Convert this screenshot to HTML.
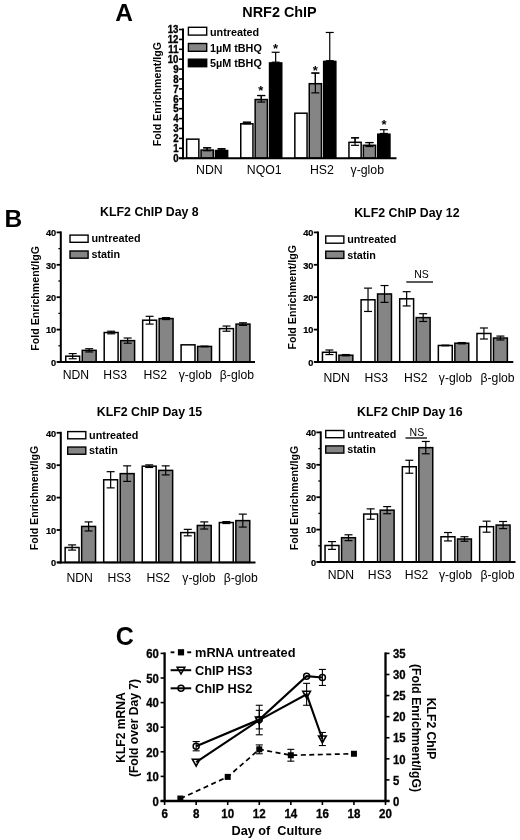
<!DOCTYPE html>
<html><head><meta charset="utf-8"><title>Figure</title>
<style>html,body{margin:0;padding:0;background:#fff}svg{display:block}</style></head><body>
<svg width="520" height="840" viewBox="0 0 520 840">
<rect x="0" y="0" width="520" height="840" fill="#fff"/>
<text x="115.30" y="21.40" font-size="24.5" font-family="Liberation Sans, sans-serif" font-weight="bold" text-anchor="start" >A</text>
<rect x="186.65" y="139.15" width="12.20" height="19.05" fill="#fff" stroke="#000" stroke-width="1.5"/>
<line x1="207.15" y1="147.80" x2="207.15" y2="150.77" stroke="#000" stroke-width="1.2" />
<line x1="203.15" y1="147.80" x2="211.15" y2="147.80" stroke="#000" stroke-width="1.2" />
<line x1="203.15" y1="150.77" x2="211.15" y2="150.77" stroke="#000" stroke-width="1.2" />
<rect x="201.05" y="150.04" width="12.20" height="8.16" fill="#858585" stroke="#000" stroke-width="1.5"/>
<line x1="207.15" y1="147.80" x2="207.15" y2="150.77" stroke="#000" stroke-width="1.2" />
<line x1="203.15" y1="147.80" x2="211.15" y2="147.80" stroke="#000" stroke-width="1.2" />
<line x1="203.15" y1="150.77" x2="211.15" y2="150.77" stroke="#000" stroke-width="1.2" />
<line x1="221.55" y1="148.60" x2="221.55" y2="149.78" stroke="#000" stroke-width="1.2" />
<line x1="217.55" y1="148.60" x2="225.55" y2="148.60" stroke="#000" stroke-width="1.2" />
<line x1="217.55" y1="149.78" x2="225.55" y2="149.78" stroke="#000" stroke-width="1.2" />
<rect x="215.45" y="150.53" width="12.20" height="7.66" fill="#000" stroke="#000" stroke-width="1.5"/>
<text x="209.35" y="174.20" font-size="12.3" font-family="Liberation Sans, sans-serif" text-anchor="middle" >NDN</text>
<line x1="246.85" y1="122.26" x2="246.85" y2="123.85" stroke="#000" stroke-width="1.2" />
<line x1="242.85" y1="122.26" x2="250.85" y2="122.26" stroke="#000" stroke-width="1.2" />
<line x1="242.85" y1="123.85" x2="250.85" y2="123.85" stroke="#000" stroke-width="1.2" />
<rect x="240.75" y="123.80" width="12.20" height="34.39" fill="#fff" stroke="#000" stroke-width="1.5"/>
<line x1="246.85" y1="122.26" x2="246.85" y2="123.85" stroke="#000" stroke-width="1.2" />
<line x1="242.85" y1="122.26" x2="250.85" y2="122.26" stroke="#000" stroke-width="1.2" />
<line x1="242.85" y1="123.85" x2="250.85" y2="123.85" stroke="#000" stroke-width="1.2" />
<line x1="261.25" y1="95.53" x2="261.25" y2="102.07" stroke="#000" stroke-width="1.2" />
<line x1="257.25" y1="95.53" x2="265.25" y2="95.53" stroke="#000" stroke-width="1.2" />
<line x1="257.25" y1="102.07" x2="265.25" y2="102.07" stroke="#000" stroke-width="1.2" />
<rect x="255.15" y="99.55" width="12.20" height="58.65" fill="#858585" stroke="#000" stroke-width="1.5"/>
<line x1="261.25" y1="95.53" x2="261.25" y2="102.07" stroke="#000" stroke-width="1.2" />
<line x1="257.25" y1="95.53" x2="265.25" y2="95.53" stroke="#000" stroke-width="1.2" />
<line x1="257.25" y1="102.07" x2="265.25" y2="102.07" stroke="#000" stroke-width="1.2" />
<line x1="275.65" y1="52.27" x2="275.65" y2="62.17" stroke="#000" stroke-width="1.2" />
<line x1="271.65" y1="52.27" x2="279.65" y2="52.27" stroke="#000" stroke-width="1.2" />
<line x1="271.65" y1="62.17" x2="279.65" y2="62.17" stroke="#000" stroke-width="1.2" />
<rect x="269.55" y="62.92" width="12.20" height="95.28" fill="#000" stroke="#000" stroke-width="1.5"/>
<text x="264.25" y="174.20" font-size="12.3" font-family="Liberation Sans, sans-serif" text-anchor="middle" >NQO1</text>
<rect x="294.85" y="113.21" width="12.20" height="44.99" fill="#fff" stroke="#000" stroke-width="1.5"/>
<line x1="315.35" y1="73.06" x2="315.35" y2="92.86" stroke="#000" stroke-width="1.2" />
<line x1="311.35" y1="73.06" x2="319.35" y2="73.06" stroke="#000" stroke-width="1.2" />
<line x1="311.35" y1="92.86" x2="319.35" y2="92.86" stroke="#000" stroke-width="1.2" />
<rect x="309.25" y="83.71" width="12.20" height="74.49" fill="#858585" stroke="#000" stroke-width="1.5"/>
<line x1="315.35" y1="73.06" x2="315.35" y2="92.86" stroke="#000" stroke-width="1.2" />
<line x1="311.35" y1="73.06" x2="319.35" y2="73.06" stroke="#000" stroke-width="1.2" />
<line x1="311.35" y1="92.86" x2="319.35" y2="92.86" stroke="#000" stroke-width="1.2" />
<line x1="329.75" y1="32.47" x2="329.75" y2="60.68" stroke="#000" stroke-width="1.2" />
<line x1="325.75" y1="32.47" x2="333.75" y2="32.47" stroke="#000" stroke-width="1.2" />
<line x1="325.75" y1="60.68" x2="333.75" y2="60.68" stroke="#000" stroke-width="1.2" />
<rect x="323.65" y="61.43" width="12.20" height="96.77" fill="#000" stroke="#000" stroke-width="1.5"/>
<text x="321.95" y="174.20" font-size="12.3" font-family="Liberation Sans, sans-serif" text-anchor="middle" >HS2</text>
<line x1="355.05" y1="137.81" x2="355.05" y2="145.33" stroke="#000" stroke-width="1.2" />
<line x1="351.05" y1="137.81" x2="359.05" y2="137.81" stroke="#000" stroke-width="1.2" />
<line x1="351.05" y1="145.33" x2="359.05" y2="145.33" stroke="#000" stroke-width="1.2" />
<rect x="348.95" y="142.32" width="12.20" height="15.88" fill="#fff" stroke="#000" stroke-width="1.5"/>
<line x1="355.05" y1="137.81" x2="355.05" y2="145.33" stroke="#000" stroke-width="1.2" />
<line x1="351.05" y1="137.81" x2="359.05" y2="137.81" stroke="#000" stroke-width="1.2" />
<line x1="351.05" y1="145.33" x2="359.05" y2="145.33" stroke="#000" stroke-width="1.2" />
<line x1="369.45" y1="142.56" x2="369.45" y2="146.52" stroke="#000" stroke-width="1.2" />
<line x1="365.45" y1="142.56" x2="373.45" y2="142.56" stroke="#000" stroke-width="1.2" />
<line x1="365.45" y1="146.52" x2="373.45" y2="146.52" stroke="#000" stroke-width="1.2" />
<rect x="363.35" y="145.29" width="12.20" height="12.91" fill="#858585" stroke="#000" stroke-width="1.5"/>
<line x1="369.45" y1="142.56" x2="369.45" y2="146.52" stroke="#000" stroke-width="1.2" />
<line x1="365.45" y1="142.56" x2="373.45" y2="142.56" stroke="#000" stroke-width="1.2" />
<line x1="365.45" y1="146.52" x2="373.45" y2="146.52" stroke="#000" stroke-width="1.2" />
<line x1="383.85" y1="129.69" x2="383.85" y2="133.45" stroke="#000" stroke-width="1.2" />
<line x1="379.85" y1="129.69" x2="387.85" y2="129.69" stroke="#000" stroke-width="1.2" />
<line x1="379.85" y1="133.45" x2="387.85" y2="133.45" stroke="#000" stroke-width="1.2" />
<rect x="377.75" y="134.20" width="12.20" height="24.00" fill="#000" stroke="#000" stroke-width="1.5"/>
<text x="367.25" y="174.20" font-size="12.3" font-family="Liberation Sans, sans-serif" text-anchor="middle" >&#947;-glob</text>
<line x1="183.00" y1="28.50" x2="183.00" y2="159.20" stroke="#000" stroke-width="2" />
<line x1="179.00" y1="158.20" x2="396.50" y2="158.20" stroke="#000" stroke-width="2" />
<line x1="179.00" y1="158.20" x2="183.00" y2="158.20" stroke="#000" stroke-width="1.6" />
<text transform="translate(178.50,161.98) scale(0.92,1)" stroke="#000" stroke-width="0.35" font-size="10.5" font-family="Liberation Sans, sans-serif" font-weight="bold" text-anchor="end">0</text>
<line x1="179.00" y1="148.30" x2="183.00" y2="148.30" stroke="#000" stroke-width="1.6" />
<text transform="translate(178.50,152.08) scale(0.92,1)" stroke="#000" stroke-width="0.35" font-size="10.5" font-family="Liberation Sans, sans-serif" font-weight="bold" text-anchor="end">1</text>
<line x1="179.00" y1="138.40" x2="183.00" y2="138.40" stroke="#000" stroke-width="1.6" />
<text transform="translate(178.50,142.18) scale(0.92,1)" stroke="#000" stroke-width="0.35" font-size="10.5" font-family="Liberation Sans, sans-serif" font-weight="bold" text-anchor="end">2</text>
<line x1="179.00" y1="128.50" x2="183.00" y2="128.50" stroke="#000" stroke-width="1.6" />
<text transform="translate(178.50,132.28) scale(0.92,1)" stroke="#000" stroke-width="0.35" font-size="10.5" font-family="Liberation Sans, sans-serif" font-weight="bold" text-anchor="end">3</text>
<line x1="179.00" y1="118.60" x2="183.00" y2="118.60" stroke="#000" stroke-width="1.6" />
<text transform="translate(178.50,122.38) scale(0.92,1)" stroke="#000" stroke-width="0.35" font-size="10.5" font-family="Liberation Sans, sans-serif" font-weight="bold" text-anchor="end">4</text>
<line x1="179.00" y1="108.70" x2="183.00" y2="108.70" stroke="#000" stroke-width="1.6" />
<text transform="translate(178.50,112.48) scale(0.92,1)" stroke="#000" stroke-width="0.35" font-size="10.5" font-family="Liberation Sans, sans-serif" font-weight="bold" text-anchor="end">5</text>
<line x1="179.00" y1="98.80" x2="183.00" y2="98.80" stroke="#000" stroke-width="1.6" />
<text transform="translate(178.50,102.58) scale(0.92,1)" stroke="#000" stroke-width="0.35" font-size="10.5" font-family="Liberation Sans, sans-serif" font-weight="bold" text-anchor="end">6</text>
<line x1="179.00" y1="88.90" x2="183.00" y2="88.90" stroke="#000" stroke-width="1.6" />
<text transform="translate(178.50,92.68) scale(0.92,1)" stroke="#000" stroke-width="0.35" font-size="10.5" font-family="Liberation Sans, sans-serif" font-weight="bold" text-anchor="end">7</text>
<line x1="179.00" y1="79.00" x2="183.00" y2="79.00" stroke="#000" stroke-width="1.6" />
<text transform="translate(178.50,82.78) scale(0.92,1)" stroke="#000" stroke-width="0.35" font-size="10.5" font-family="Liberation Sans, sans-serif" font-weight="bold" text-anchor="end">8</text>
<line x1="179.00" y1="69.10" x2="183.00" y2="69.10" stroke="#000" stroke-width="1.6" />
<text transform="translate(178.50,72.88) scale(0.92,1)" stroke="#000" stroke-width="0.35" font-size="10.5" font-family="Liberation Sans, sans-serif" font-weight="bold" text-anchor="end">9</text>
<line x1="179.00" y1="59.20" x2="183.00" y2="59.20" stroke="#000" stroke-width="1.6" />
<text transform="translate(178.50,62.98) scale(0.92,1)" stroke="#000" stroke-width="0.35" font-size="10.5" font-family="Liberation Sans, sans-serif" font-weight="bold" text-anchor="end">10</text>
<line x1="179.00" y1="49.30" x2="183.00" y2="49.30" stroke="#000" stroke-width="1.6" />
<text transform="translate(178.50,53.08) scale(0.92,1)" stroke="#000" stroke-width="0.35" font-size="10.5" font-family="Liberation Sans, sans-serif" font-weight="bold" text-anchor="end">11</text>
<line x1="179.00" y1="39.40" x2="183.00" y2="39.40" stroke="#000" stroke-width="1.6" />
<text transform="translate(178.50,43.18) scale(0.92,1)" stroke="#000" stroke-width="0.35" font-size="10.5" font-family="Liberation Sans, sans-serif" font-weight="bold" text-anchor="end">12</text>
<line x1="179.00" y1="29.50" x2="183.00" y2="29.50" stroke="#000" stroke-width="1.6" />
<text transform="translate(178.50,33.28) scale(0.92,1)" stroke="#000" stroke-width="0.35" font-size="10.5" font-family="Liberation Sans, sans-serif" font-weight="bold" text-anchor="end">13</text>
<text x="279.50" y="16.50" font-size="14.4" font-family="Liberation Sans, sans-serif" font-weight="bold" text-anchor="middle" >NRF2 ChIP</text>
<text transform="translate(160.80,94.10) rotate(-90)" font-size="10.6" font-family="Liberation Sans, sans-serif" font-weight="bold" text-anchor="middle">Fold Enrichment/IgG</text>
<rect x="188.40" y="27.30" width="18.30" height="7.80" fill="#fff" stroke="#000" stroke-width="1.4"/>
<text x="210.00" y="35.80" font-size="10.8" font-family="Liberation Sans, sans-serif" font-weight="bold" text-anchor="start" >untreated</text>
<rect x="188.40" y="43.50" width="18.30" height="7.80" fill="#858585" stroke="#000" stroke-width="1.4"/>
<text x="210.00" y="51.50" font-size="10.8" font-family="Liberation Sans, sans-serif" font-weight="bold" text-anchor="start" >1&#181;M tBHQ</text>
<rect x="188.40" y="59.20" width="18.30" height="7.50" fill="#000" stroke="#000" stroke-width="1.4"/>
<text x="210.00" y="67.20" font-size="10.8" font-family="Liberation Sans, sans-serif" font-weight="bold" text-anchor="start" >5&#181;M tBHQ</text>
<text x="260.80" y="95.00" font-size="13" font-family="Liberation Sans, sans-serif" font-weight="bold" text-anchor="middle" >*</text>
<text x="275.50" y="53.00" font-size="13" font-family="Liberation Sans, sans-serif" font-weight="bold" text-anchor="middle" >*</text>
<text x="315.30" y="75.00" font-size="13" font-family="Liberation Sans, sans-serif" font-weight="bold" text-anchor="middle" >*</text>
<text x="384.00" y="129.00" font-size="13" font-family="Liberation Sans, sans-serif" font-weight="bold" text-anchor="middle" >*</text>
<text x="4.40" y="226.80" font-size="24.5" font-family="Liberation Sans, sans-serif" font-weight="bold" text-anchor="start" >B</text>
<rect x="65.75" y="356.17" width="13.90" height="5.83" fill="#fff" stroke="#000" stroke-width="1.5"/>
<line x1="72.70" y1="353.58" x2="72.70" y2="358.76" stroke="#000" stroke-width="1.2" />
<line x1="68.70" y1="353.58" x2="76.70" y2="353.58" stroke="#000" stroke-width="1.2" />
<line x1="68.70" y1="358.76" x2="76.70" y2="358.76" stroke="#000" stroke-width="1.2" />
<rect x="82.25" y="350.34" width="13.90" height="11.66" fill="#858585" stroke="#000" stroke-width="1.5"/>
<line x1="89.20" y1="348.72" x2="89.20" y2="351.96" stroke="#000" stroke-width="1.2" />
<line x1="85.20" y1="348.72" x2="93.20" y2="348.72" stroke="#000" stroke-width="1.2" />
<line x1="85.20" y1="351.96" x2="93.20" y2="351.96" stroke="#000" stroke-width="1.2" />
<rect x="104.20" y="332.52" width="13.90" height="29.48" fill="#fff" stroke="#000" stroke-width="1.5"/>
<line x1="111.15" y1="331.22" x2="111.15" y2="333.81" stroke="#000" stroke-width="1.2" />
<line x1="107.15" y1="331.22" x2="115.15" y2="331.22" stroke="#000" stroke-width="1.2" />
<line x1="107.15" y1="333.81" x2="115.15" y2="333.81" stroke="#000" stroke-width="1.2" />
<rect x="120.70" y="340.62" width="13.90" height="21.38" fill="#858585" stroke="#000" stroke-width="1.5"/>
<line x1="127.65" y1="338.02" x2="127.65" y2="343.21" stroke="#000" stroke-width="1.2" />
<line x1="123.65" y1="338.02" x2="131.65" y2="338.02" stroke="#000" stroke-width="1.2" />
<line x1="123.65" y1="343.21" x2="131.65" y2="343.21" stroke="#000" stroke-width="1.2" />
<rect x="142.65" y="320.20" width="13.90" height="41.80" fill="#fff" stroke="#000" stroke-width="1.5"/>
<line x1="149.60" y1="316.32" x2="149.60" y2="324.09" stroke="#000" stroke-width="1.2" />
<line x1="145.60" y1="316.32" x2="153.60" y2="316.32" stroke="#000" stroke-width="1.2" />
<line x1="145.60" y1="324.09" x2="153.60" y2="324.09" stroke="#000" stroke-width="1.2" />
<rect x="159.15" y="318.58" width="13.90" height="43.42" fill="#858585" stroke="#000" stroke-width="1.5"/>
<line x1="166.10" y1="317.61" x2="166.10" y2="319.56" stroke="#000" stroke-width="1.2" />
<line x1="162.10" y1="317.61" x2="170.10" y2="317.61" stroke="#000" stroke-width="1.2" />
<line x1="162.10" y1="319.56" x2="170.10" y2="319.56" stroke="#000" stroke-width="1.2" />
<rect x="181.10" y="344.83" width="13.90" height="17.17" fill="#fff" stroke="#000" stroke-width="1.5"/>
<rect x="197.60" y="346.45" width="13.90" height="15.55" fill="#858585" stroke="#000" stroke-width="1.5"/>
<line x1="204.55" y1="346.12" x2="204.55" y2="346.77" stroke="#000" stroke-width="1.2" />
<line x1="200.55" y1="346.12" x2="208.55" y2="346.12" stroke="#000" stroke-width="1.2" />
<line x1="200.55" y1="346.77" x2="208.55" y2="346.77" stroke="#000" stroke-width="1.2" />
<rect x="219.55" y="328.63" width="13.90" height="33.37" fill="#fff" stroke="#000" stroke-width="1.5"/>
<line x1="226.50" y1="326.04" x2="226.50" y2="331.22" stroke="#000" stroke-width="1.2" />
<line x1="222.50" y1="326.04" x2="230.50" y2="326.04" stroke="#000" stroke-width="1.2" />
<line x1="222.50" y1="331.22" x2="230.50" y2="331.22" stroke="#000" stroke-width="1.2" />
<rect x="236.05" y="324.09" width="13.90" height="37.91" fill="#858585" stroke="#000" stroke-width="1.5"/>
<line x1="243.00" y1="322.80" x2="243.00" y2="325.39" stroke="#000" stroke-width="1.2" />
<line x1="239.00" y1="322.80" x2="247.00" y2="322.80" stroke="#000" stroke-width="1.2" />
<line x1="239.00" y1="325.39" x2="247.00" y2="325.39" stroke="#000" stroke-width="1.2" />
<text x="75.90" y="378.90" font-size="12.2" font-family="Liberation Sans, sans-serif" text-anchor="middle" >NDN</text>
<text x="115.20" y="378.90" font-size="12.2" font-family="Liberation Sans, sans-serif" text-anchor="middle" >HS3</text>
<text x="155.25" y="378.90" font-size="12.2" font-family="Liberation Sans, sans-serif" text-anchor="middle" >HS2</text>
<text x="195.30" y="378.90" font-size="12.2" font-family="Liberation Sans, sans-serif" text-anchor="middle" >&#947;-glob</text>
<text x="236.90" y="378.90" font-size="12.2" font-family="Liberation Sans, sans-serif" text-anchor="middle" >&#946;-glob</text>
<line x1="60.80" y1="231.40" x2="60.80" y2="363.00" stroke="#000" stroke-width="2" />
<line x1="57.30" y1="362.00" x2="255.00" y2="362.00" stroke="#000" stroke-width="2" />
<line x1="56.60" y1="362.00" x2="60.80" y2="362.00" stroke="#000" stroke-width="1.8" />
<text transform="translate(56.20,365.83) scale(0.94,1)" stroke="#000" stroke-width="0.25" font-size="9.8" font-family="Liberation Sans, sans-serif" font-weight="bold" text-anchor="end">0</text>
<line x1="56.60" y1="329.60" x2="60.80" y2="329.60" stroke="#000" stroke-width="1.8" />
<text transform="translate(56.20,333.43) scale(0.94,1)" stroke="#000" stroke-width="0.25" font-size="9.8" font-family="Liberation Sans, sans-serif" font-weight="bold" text-anchor="end">10</text>
<line x1="56.60" y1="297.20" x2="60.80" y2="297.20" stroke="#000" stroke-width="1.8" />
<text transform="translate(56.20,301.03) scale(0.94,1)" stroke="#000" stroke-width="0.25" font-size="9.8" font-family="Liberation Sans, sans-serif" font-weight="bold" text-anchor="end">20</text>
<line x1="56.60" y1="264.80" x2="60.80" y2="264.80" stroke="#000" stroke-width="1.8" />
<text transform="translate(56.20,268.63) scale(0.94,1)" stroke="#000" stroke-width="0.25" font-size="9.8" font-family="Liberation Sans, sans-serif" font-weight="bold" text-anchor="end">30</text>
<line x1="56.60" y1="232.40" x2="60.80" y2="232.40" stroke="#000" stroke-width="1.8" />
<text transform="translate(56.20,236.23) scale(0.94,1)" stroke="#000" stroke-width="0.25" font-size="9.8" font-family="Liberation Sans, sans-serif" font-weight="bold" text-anchor="end">40</text>
<line x1="58.40" y1="345.80" x2="60.80" y2="345.80" stroke="#000" stroke-width="1.3" />
<line x1="58.40" y1="313.40" x2="60.80" y2="313.40" stroke="#000" stroke-width="1.3" />
<line x1="58.40" y1="281.00" x2="60.80" y2="281.00" stroke="#000" stroke-width="1.3" />
<line x1="58.40" y1="248.60" x2="60.80" y2="248.60" stroke="#000" stroke-width="1.3" />
<text x="149.40" y="216.20" font-size="12.35" font-family="Liberation Sans, sans-serif" font-weight="bold" text-anchor="middle" >KLF2 ChIP Day 8</text>
<text transform="translate(39.00,298.40) rotate(-90)" font-size="10.65" font-family="Liberation Sans, sans-serif" font-weight="bold" text-anchor="middle">Fold Enrichment/IgG</text>
<rect x="70.00" y="235.10" width="18.10" height="7.20" fill="#fff" stroke="#000" stroke-width="1.4"/>
<text x="91.40" y="242.40" font-size="10.8" font-family="Liberation Sans, sans-serif" font-weight="bold" text-anchor="start" >untreated</text>
<rect x="70.00" y="251.00" width="18.10" height="7.20" fill="#858585" stroke="#000" stroke-width="1.4"/>
<text x="91.40" y="258.30" font-size="10.8" font-family="Liberation Sans, sans-serif" font-weight="bold" text-anchor="start" >statin</text>
<rect x="322.45" y="352.28" width="13.90" height="9.72" fill="#fff" stroke="#000" stroke-width="1.5"/>
<line x1="329.40" y1="350.01" x2="329.40" y2="354.55" stroke="#000" stroke-width="1.2" />
<line x1="325.40" y1="350.01" x2="333.40" y2="350.01" stroke="#000" stroke-width="1.2" />
<line x1="325.40" y1="354.55" x2="333.40" y2="354.55" stroke="#000" stroke-width="1.2" />
<rect x="338.95" y="355.20" width="13.90" height="6.80" fill="#858585" stroke="#000" stroke-width="1.5"/>
<line x1="345.90" y1="354.55" x2="345.90" y2="355.84" stroke="#000" stroke-width="1.2" />
<line x1="341.90" y1="354.55" x2="349.90" y2="354.55" stroke="#000" stroke-width="1.2" />
<line x1="341.90" y1="355.84" x2="349.90" y2="355.84" stroke="#000" stroke-width="1.2" />
<rect x="361.08" y="299.79" width="13.90" height="62.21" fill="#fff" stroke="#000" stroke-width="1.5"/>
<line x1="368.03" y1="288.13" x2="368.03" y2="311.46" stroke="#000" stroke-width="1.2" />
<line x1="364.03" y1="288.13" x2="372.03" y2="288.13" stroke="#000" stroke-width="1.2" />
<line x1="364.03" y1="311.46" x2="372.03" y2="311.46" stroke="#000" stroke-width="1.2" />
<rect x="377.58" y="293.96" width="13.90" height="68.04" fill="#858585" stroke="#000" stroke-width="1.5"/>
<line x1="384.53" y1="285.54" x2="384.53" y2="302.38" stroke="#000" stroke-width="1.2" />
<line x1="380.53" y1="285.54" x2="388.53" y2="285.54" stroke="#000" stroke-width="1.2" />
<line x1="380.53" y1="302.38" x2="388.53" y2="302.38" stroke="#000" stroke-width="1.2" />
<rect x="399.71" y="298.82" width="13.90" height="63.18" fill="#fff" stroke="#000" stroke-width="1.5"/>
<line x1="406.66" y1="291.69" x2="406.66" y2="305.95" stroke="#000" stroke-width="1.2" />
<line x1="402.66" y1="291.69" x2="410.66" y2="291.69" stroke="#000" stroke-width="1.2" />
<line x1="402.66" y1="305.95" x2="410.66" y2="305.95" stroke="#000" stroke-width="1.2" />
<rect x="416.21" y="317.61" width="13.90" height="44.39" fill="#858585" stroke="#000" stroke-width="1.5"/>
<line x1="423.16" y1="313.72" x2="423.16" y2="321.50" stroke="#000" stroke-width="1.2" />
<line x1="419.16" y1="313.72" x2="427.16" y2="313.72" stroke="#000" stroke-width="1.2" />
<line x1="419.16" y1="321.50" x2="427.16" y2="321.50" stroke="#000" stroke-width="1.2" />
<rect x="438.34" y="345.48" width="13.90" height="16.52" fill="#fff" stroke="#000" stroke-width="1.5"/>
<line x1="445.29" y1="345.15" x2="445.29" y2="345.80" stroke="#000" stroke-width="1.2" />
<line x1="441.29" y1="345.15" x2="449.29" y2="345.15" stroke="#000" stroke-width="1.2" />
<line x1="441.29" y1="345.80" x2="449.29" y2="345.80" stroke="#000" stroke-width="1.2" />
<rect x="454.84" y="343.21" width="13.90" height="18.79" fill="#858585" stroke="#000" stroke-width="1.5"/>
<line x1="461.79" y1="342.56" x2="461.79" y2="343.86" stroke="#000" stroke-width="1.2" />
<line x1="457.79" y1="342.56" x2="465.79" y2="342.56" stroke="#000" stroke-width="1.2" />
<line x1="457.79" y1="343.86" x2="465.79" y2="343.86" stroke="#000" stroke-width="1.2" />
<rect x="476.97" y="333.49" width="13.90" height="28.51" fill="#fff" stroke="#000" stroke-width="1.5"/>
<line x1="483.92" y1="327.98" x2="483.92" y2="339.00" stroke="#000" stroke-width="1.2" />
<line x1="479.92" y1="327.98" x2="487.92" y2="327.98" stroke="#000" stroke-width="1.2" />
<line x1="479.92" y1="339.00" x2="487.92" y2="339.00" stroke="#000" stroke-width="1.2" />
<rect x="493.47" y="338.02" width="13.90" height="23.98" fill="#858585" stroke="#000" stroke-width="1.5"/>
<line x1="500.42" y1="336.08" x2="500.42" y2="339.97" stroke="#000" stroke-width="1.2" />
<line x1="496.42" y1="336.08" x2="504.42" y2="336.08" stroke="#000" stroke-width="1.2" />
<line x1="496.42" y1="339.97" x2="504.42" y2="339.97" stroke="#000" stroke-width="1.2" />
<text x="336.70" y="381.70" font-size="12.2" font-family="Liberation Sans, sans-serif" text-anchor="middle" >NDN</text>
<text x="376.30" y="381.70" font-size="12.2" font-family="Liberation Sans, sans-serif" text-anchor="middle" >HS3</text>
<text x="415.80" y="381.70" font-size="12.2" font-family="Liberation Sans, sans-serif" text-anchor="middle" >HS2</text>
<text x="455.40" y="381.70" font-size="12.2" font-family="Liberation Sans, sans-serif" text-anchor="middle" >&#947;-glob</text>
<text x="497.60" y="381.70" font-size="12.2" font-family="Liberation Sans, sans-serif" text-anchor="middle" >&#946;-glob</text>
<line x1="318.00" y1="231.40" x2="318.00" y2="363.00" stroke="#000" stroke-width="2" />
<line x1="314.50" y1="362.00" x2="513.30" y2="362.00" stroke="#000" stroke-width="2" />
<line x1="313.80" y1="362.00" x2="318.00" y2="362.00" stroke="#000" stroke-width="1.8" />
<text transform="translate(313.40,365.83) scale(0.94,1)" stroke="#000" stroke-width="0.25" font-size="9.8" font-family="Liberation Sans, sans-serif" font-weight="bold" text-anchor="end">0</text>
<line x1="313.80" y1="329.60" x2="318.00" y2="329.60" stroke="#000" stroke-width="1.8" />
<text transform="translate(313.40,333.43) scale(0.94,1)" stroke="#000" stroke-width="0.25" font-size="9.8" font-family="Liberation Sans, sans-serif" font-weight="bold" text-anchor="end">10</text>
<line x1="313.80" y1="297.20" x2="318.00" y2="297.20" stroke="#000" stroke-width="1.8" />
<text transform="translate(313.40,301.03) scale(0.94,1)" stroke="#000" stroke-width="0.25" font-size="9.8" font-family="Liberation Sans, sans-serif" font-weight="bold" text-anchor="end">20</text>
<line x1="313.80" y1="264.80" x2="318.00" y2="264.80" stroke="#000" stroke-width="1.8" />
<text transform="translate(313.40,268.63) scale(0.94,1)" stroke="#000" stroke-width="0.25" font-size="9.8" font-family="Liberation Sans, sans-serif" font-weight="bold" text-anchor="end">30</text>
<line x1="313.80" y1="232.40" x2="318.00" y2="232.40" stroke="#000" stroke-width="1.8" />
<text transform="translate(313.40,236.23) scale(0.94,1)" stroke="#000" stroke-width="0.25" font-size="9.8" font-family="Liberation Sans, sans-serif" font-weight="bold" text-anchor="end">40</text>
<text x="406.90" y="216.90" font-size="12.35" font-family="Liberation Sans, sans-serif" font-weight="bold" text-anchor="middle" >KLF2 ChIP Day 12</text>
<text transform="translate(295.50,297.30) rotate(-90)" font-size="10.65" font-family="Liberation Sans, sans-serif" font-weight="bold" text-anchor="middle">Fold Enrichment/IgG</text>
<rect x="325.75" y="236.00" width="18.10" height="7.20" fill="#fff" stroke="#000" stroke-width="1.4"/>
<text x="347.15" y="243.30" font-size="10.8" font-family="Liberation Sans, sans-serif" font-weight="bold" text-anchor="start" >untreated</text>
<rect x="325.75" y="251.20" width="18.10" height="7.20" fill="#858585" stroke="#000" stroke-width="1.4"/>
<text x="347.15" y="258.50" font-size="10.8" font-family="Liberation Sans, sans-serif" font-weight="bold" text-anchor="start" >statin</text>
<line x1="406.30" y1="282.00" x2="433.00" y2="282.00" stroke="#000" stroke-width="1.3" />
<text x="421.50" y="278.30" font-size="10.5" font-family="Liberation Sans, sans-serif" text-anchor="middle" >NS</text>
<rect x="65.15" y="547.50" width="13.90" height="14.90" fill="#fff" stroke="#000" stroke-width="1.5"/>
<line x1="72.10" y1="544.90" x2="72.10" y2="550.09" stroke="#000" stroke-width="1.2" />
<line x1="68.10" y1="544.90" x2="76.10" y2="544.90" stroke="#000" stroke-width="1.2" />
<line x1="68.10" y1="550.09" x2="76.10" y2="550.09" stroke="#000" stroke-width="1.2" />
<rect x="81.65" y="526.44" width="13.90" height="35.96" fill="#858585" stroke="#000" stroke-width="1.5"/>
<line x1="88.60" y1="521.90" x2="88.60" y2="530.97" stroke="#000" stroke-width="1.2" />
<line x1="84.60" y1="521.90" x2="92.60" y2="521.90" stroke="#000" stroke-width="1.2" />
<line x1="84.60" y1="530.97" x2="92.60" y2="530.97" stroke="#000" stroke-width="1.2" />
<rect x="103.70" y="479.78" width="13.90" height="82.62" fill="#fff" stroke="#000" stroke-width="1.5"/>
<line x1="110.65" y1="471.68" x2="110.65" y2="487.88" stroke="#000" stroke-width="1.2" />
<line x1="106.65" y1="471.68" x2="114.65" y2="471.68" stroke="#000" stroke-width="1.2" />
<line x1="106.65" y1="487.88" x2="114.65" y2="487.88" stroke="#000" stroke-width="1.2" />
<rect x="120.20" y="473.62" width="13.90" height="88.78" fill="#858585" stroke="#000" stroke-width="1.5"/>
<line x1="127.15" y1="465.85" x2="127.15" y2="481.40" stroke="#000" stroke-width="1.2" />
<line x1="123.15" y1="465.85" x2="131.15" y2="465.85" stroke="#000" stroke-width="1.2" />
<line x1="123.15" y1="481.40" x2="131.15" y2="481.40" stroke="#000" stroke-width="1.2" />
<rect x="142.25" y="466.17" width="13.90" height="96.23" fill="#fff" stroke="#000" stroke-width="1.5"/>
<line x1="149.20" y1="464.88" x2="149.20" y2="467.47" stroke="#000" stroke-width="1.2" />
<line x1="145.20" y1="464.88" x2="153.20" y2="464.88" stroke="#000" stroke-width="1.2" />
<line x1="145.20" y1="467.47" x2="153.20" y2="467.47" stroke="#000" stroke-width="1.2" />
<rect x="158.75" y="470.38" width="13.90" height="92.02" fill="#858585" stroke="#000" stroke-width="1.5"/>
<line x1="165.70" y1="465.85" x2="165.70" y2="474.92" stroke="#000" stroke-width="1.2" />
<line x1="161.70" y1="465.85" x2="169.70" y2="465.85" stroke="#000" stroke-width="1.2" />
<line x1="161.70" y1="474.92" x2="169.70" y2="474.92" stroke="#000" stroke-width="1.2" />
<rect x="180.80" y="532.59" width="13.90" height="29.81" fill="#fff" stroke="#000" stroke-width="1.5"/>
<line x1="187.75" y1="529.35" x2="187.75" y2="535.83" stroke="#000" stroke-width="1.2" />
<line x1="183.75" y1="529.35" x2="191.75" y2="529.35" stroke="#000" stroke-width="1.2" />
<line x1="183.75" y1="535.83" x2="191.75" y2="535.83" stroke="#000" stroke-width="1.2" />
<rect x="197.30" y="525.46" width="13.90" height="36.94" fill="#858585" stroke="#000" stroke-width="1.5"/>
<line x1="204.25" y1="521.90" x2="204.25" y2="529.03" stroke="#000" stroke-width="1.2" />
<line x1="200.25" y1="521.90" x2="208.25" y2="521.90" stroke="#000" stroke-width="1.2" />
<line x1="200.25" y1="529.03" x2="208.25" y2="529.03" stroke="#000" stroke-width="1.2" />
<rect x="219.35" y="522.55" width="13.90" height="39.85" fill="#fff" stroke="#000" stroke-width="1.5"/>
<line x1="226.30" y1="521.58" x2="226.30" y2="523.52" stroke="#000" stroke-width="1.2" />
<line x1="222.30" y1="521.58" x2="230.30" y2="521.58" stroke="#000" stroke-width="1.2" />
<line x1="222.30" y1="523.52" x2="230.30" y2="523.52" stroke="#000" stroke-width="1.2" />
<rect x="235.85" y="520.60" width="13.90" height="41.80" fill="#858585" stroke="#000" stroke-width="1.5"/>
<line x1="242.80" y1="514.12" x2="242.80" y2="527.08" stroke="#000" stroke-width="1.2" />
<line x1="238.80" y1="514.12" x2="246.80" y2="514.12" stroke="#000" stroke-width="1.2" />
<line x1="238.80" y1="527.08" x2="246.80" y2="527.08" stroke="#000" stroke-width="1.2" />
<text x="79.60" y="581.70" font-size="12.2" font-family="Liberation Sans, sans-serif" text-anchor="middle" >NDN</text>
<text x="119.30" y="581.70" font-size="12.2" font-family="Liberation Sans, sans-serif" text-anchor="middle" >HS3</text>
<text x="158.30" y="581.70" font-size="12.2" font-family="Liberation Sans, sans-serif" text-anchor="middle" >HS2</text>
<text x="198.90" y="581.70" font-size="12.2" font-family="Liberation Sans, sans-serif" text-anchor="middle" >&#947;-glob</text>
<text x="240.80" y="581.70" font-size="12.2" font-family="Liberation Sans, sans-serif" text-anchor="middle" >&#946;-glob</text>
<line x1="60.80" y1="431.80" x2="60.80" y2="563.40" stroke="#000" stroke-width="2" />
<line x1="57.30" y1="562.40" x2="255.50" y2="562.40" stroke="#000" stroke-width="2" />
<line x1="56.60" y1="562.40" x2="60.80" y2="562.40" stroke="#000" stroke-width="1.8" />
<text transform="translate(56.20,566.23) scale(0.94,1)" stroke="#000" stroke-width="0.25" font-size="9.8" font-family="Liberation Sans, sans-serif" font-weight="bold" text-anchor="end">0</text>
<line x1="56.60" y1="530.00" x2="60.80" y2="530.00" stroke="#000" stroke-width="1.8" />
<text transform="translate(56.20,533.83) scale(0.94,1)" stroke="#000" stroke-width="0.25" font-size="9.8" font-family="Liberation Sans, sans-serif" font-weight="bold" text-anchor="end">10</text>
<line x1="56.60" y1="497.60" x2="60.80" y2="497.60" stroke="#000" stroke-width="1.8" />
<text transform="translate(56.20,501.43) scale(0.94,1)" stroke="#000" stroke-width="0.25" font-size="9.8" font-family="Liberation Sans, sans-serif" font-weight="bold" text-anchor="end">20</text>
<line x1="56.60" y1="465.20" x2="60.80" y2="465.20" stroke="#000" stroke-width="1.8" />
<text transform="translate(56.20,469.03) scale(0.94,1)" stroke="#000" stroke-width="0.25" font-size="9.8" font-family="Liberation Sans, sans-serif" font-weight="bold" text-anchor="end">30</text>
<line x1="56.60" y1="432.80" x2="60.80" y2="432.80" stroke="#000" stroke-width="1.8" />
<text transform="translate(56.20,436.63) scale(0.94,1)" stroke="#000" stroke-width="0.25" font-size="9.8" font-family="Liberation Sans, sans-serif" font-weight="bold" text-anchor="end">40</text>
<text x="149.50" y="416.40" font-size="12.35" font-family="Liberation Sans, sans-serif" font-weight="bold" text-anchor="middle" >KLF2 ChIP Day 15</text>
<text transform="translate(38.10,498.00) rotate(-90)" font-size="10.65" font-family="Liberation Sans, sans-serif" font-weight="bold" text-anchor="middle">Fold Enrichment/IgG</text>
<rect x="67.70" y="431.60" width="18.10" height="7.20" fill="#fff" stroke="#000" stroke-width="1.4"/>
<text x="89.10" y="438.90" font-size="10.8" font-family="Liberation Sans, sans-serif" font-weight="bold" text-anchor="start" >untreated</text>
<rect x="67.70" y="447.05" width="18.10" height="7.20" fill="#858585" stroke="#000" stroke-width="1.4"/>
<text x="89.10" y="454.35" font-size="10.8" font-family="Liberation Sans, sans-serif" font-weight="bold" text-anchor="start" >statin</text>
<rect x="325.05" y="545.48" width="13.90" height="16.52" fill="#fff" stroke="#000" stroke-width="1.5"/>
<line x1="332.00" y1="541.59" x2="332.00" y2="549.36" stroke="#000" stroke-width="1.2" />
<line x1="328.00" y1="541.59" x2="336.00" y2="541.59" stroke="#000" stroke-width="1.2" />
<line x1="328.00" y1="549.36" x2="336.00" y2="549.36" stroke="#000" stroke-width="1.2" />
<rect x="341.55" y="537.70" width="13.90" height="24.30" fill="#858585" stroke="#000" stroke-width="1.5"/>
<line x1="348.50" y1="534.78" x2="348.50" y2="540.62" stroke="#000" stroke-width="1.2" />
<line x1="344.50" y1="534.78" x2="352.50" y2="534.78" stroke="#000" stroke-width="1.2" />
<line x1="344.50" y1="540.62" x2="352.50" y2="540.62" stroke="#000" stroke-width="1.2" />
<rect x="363.70" y="514.05" width="13.90" height="47.95" fill="#fff" stroke="#000" stroke-width="1.5"/>
<line x1="370.65" y1="508.86" x2="370.65" y2="519.23" stroke="#000" stroke-width="1.2" />
<line x1="366.65" y1="508.86" x2="374.65" y2="508.86" stroke="#000" stroke-width="1.2" />
<line x1="366.65" y1="519.23" x2="374.65" y2="519.23" stroke="#000" stroke-width="1.2" />
<rect x="380.20" y="510.16" width="13.90" height="51.84" fill="#858585" stroke="#000" stroke-width="1.5"/>
<line x1="387.15" y1="506.60" x2="387.15" y2="513.72" stroke="#000" stroke-width="1.2" />
<line x1="383.15" y1="506.60" x2="391.15" y2="506.60" stroke="#000" stroke-width="1.2" />
<line x1="383.15" y1="513.72" x2="391.15" y2="513.72" stroke="#000" stroke-width="1.2" />
<rect x="402.35" y="466.74" width="13.90" height="95.26" fill="#fff" stroke="#000" stroke-width="1.5"/>
<line x1="409.30" y1="460.26" x2="409.30" y2="473.22" stroke="#000" stroke-width="1.2" />
<line x1="405.30" y1="460.26" x2="413.30" y2="460.26" stroke="#000" stroke-width="1.2" />
<line x1="405.30" y1="473.22" x2="413.30" y2="473.22" stroke="#000" stroke-width="1.2" />
<rect x="418.85" y="447.63" width="13.90" height="114.37" fill="#858585" stroke="#000" stroke-width="1.5"/>
<line x1="425.80" y1="441.47" x2="425.80" y2="453.78" stroke="#000" stroke-width="1.2" />
<line x1="421.80" y1="441.47" x2="429.80" y2="441.47" stroke="#000" stroke-width="1.2" />
<line x1="421.80" y1="453.78" x2="429.80" y2="453.78" stroke="#000" stroke-width="1.2" />
<rect x="441.00" y="536.73" width="13.90" height="25.27" fill="#fff" stroke="#000" stroke-width="1.5"/>
<line x1="447.95" y1="532.52" x2="447.95" y2="540.94" stroke="#000" stroke-width="1.2" />
<line x1="443.95" y1="532.52" x2="451.95" y2="532.52" stroke="#000" stroke-width="1.2" />
<line x1="443.95" y1="540.94" x2="451.95" y2="540.94" stroke="#000" stroke-width="1.2" />
<rect x="457.50" y="539.00" width="13.90" height="23.00" fill="#858585" stroke="#000" stroke-width="1.5"/>
<line x1="464.45" y1="536.73" x2="464.45" y2="541.26" stroke="#000" stroke-width="1.2" />
<line x1="460.45" y1="536.73" x2="468.45" y2="536.73" stroke="#000" stroke-width="1.2" />
<line x1="460.45" y1="541.26" x2="468.45" y2="541.26" stroke="#000" stroke-width="1.2" />
<rect x="479.65" y="526.68" width="13.90" height="35.32" fill="#fff" stroke="#000" stroke-width="1.5"/>
<line x1="486.60" y1="521.18" x2="486.60" y2="532.19" stroke="#000" stroke-width="1.2" />
<line x1="482.60" y1="521.18" x2="490.60" y2="521.18" stroke="#000" stroke-width="1.2" />
<line x1="482.60" y1="532.19" x2="490.60" y2="532.19" stroke="#000" stroke-width="1.2" />
<rect x="496.15" y="525.06" width="13.90" height="36.94" fill="#858585" stroke="#000" stroke-width="1.5"/>
<line x1="503.10" y1="521.50" x2="503.10" y2="528.63" stroke="#000" stroke-width="1.2" />
<line x1="499.10" y1="521.50" x2="507.10" y2="521.50" stroke="#000" stroke-width="1.2" />
<line x1="499.10" y1="528.63" x2="507.10" y2="528.63" stroke="#000" stroke-width="1.2" />
<text x="340.90" y="578.90" font-size="12.2" font-family="Liberation Sans, sans-serif" text-anchor="middle" >NDN</text>
<text x="379.70" y="578.90" font-size="12.2" font-family="Liberation Sans, sans-serif" text-anchor="middle" >HS3</text>
<text x="416.50" y="578.90" font-size="12.2" font-family="Liberation Sans, sans-serif" text-anchor="middle" >HS2</text>
<text x="455.50" y="578.90" font-size="12.2" font-family="Liberation Sans, sans-serif" text-anchor="middle" >&#947;-glob</text>
<text x="497.60" y="578.90" font-size="12.2" font-family="Liberation Sans, sans-serif" text-anchor="middle" >&#946;-glob</text>
<line x1="320.75" y1="431.40" x2="320.75" y2="563.00" stroke="#000" stroke-width="2" />
<line x1="317.25" y1="562.00" x2="515.50" y2="562.00" stroke="#000" stroke-width="2" />
<line x1="316.35" y1="562.00" x2="320.75" y2="562.00" stroke="#000" stroke-width="1.8" />
<text transform="translate(316.15,565.83) scale(0.94,1)" stroke="#000" stroke-width="0.25" font-size="9.8" font-family="Liberation Sans, sans-serif" font-weight="bold" text-anchor="end">0</text>
<line x1="316.35" y1="529.60" x2="320.75" y2="529.60" stroke="#000" stroke-width="1.8" />
<text transform="translate(316.15,533.43) scale(0.94,1)" stroke="#000" stroke-width="0.25" font-size="9.8" font-family="Liberation Sans, sans-serif" font-weight="bold" text-anchor="end">10</text>
<line x1="316.35" y1="497.20" x2="320.75" y2="497.20" stroke="#000" stroke-width="1.8" />
<text transform="translate(316.15,501.03) scale(0.94,1)" stroke="#000" stroke-width="0.25" font-size="9.8" font-family="Liberation Sans, sans-serif" font-weight="bold" text-anchor="end">20</text>
<line x1="316.35" y1="464.80" x2="320.75" y2="464.80" stroke="#000" stroke-width="1.8" />
<text transform="translate(316.15,468.63) scale(0.94,1)" stroke="#000" stroke-width="0.25" font-size="9.8" font-family="Liberation Sans, sans-serif" font-weight="bold" text-anchor="end">30</text>
<line x1="316.35" y1="432.40" x2="320.75" y2="432.40" stroke="#000" stroke-width="1.8" />
<text transform="translate(316.15,436.23) scale(0.94,1)" stroke="#000" stroke-width="0.25" font-size="9.8" font-family="Liberation Sans, sans-serif" font-weight="bold" text-anchor="end">40</text>
<line x1="318.35" y1="545.80" x2="320.75" y2="545.80" stroke="#000" stroke-width="1.3" />
<line x1="318.35" y1="513.40" x2="320.75" y2="513.40" stroke="#000" stroke-width="1.3" />
<line x1="318.35" y1="481.00" x2="320.75" y2="481.00" stroke="#000" stroke-width="1.3" />
<line x1="318.35" y1="448.60" x2="320.75" y2="448.60" stroke="#000" stroke-width="1.3" />
<text x="409.80" y="416.40" font-size="12.35" font-family="Liberation Sans, sans-serif" font-weight="bold" text-anchor="middle" >KLF2 ChIP Day 16</text>
<text transform="translate(298.00,498.00) rotate(-90)" font-size="10.65" font-family="Liberation Sans, sans-serif" font-weight="bold" text-anchor="middle">Fold Enrichment/IgG</text>
<rect x="325.75" y="430.50" width="18.10" height="7.20" fill="#fff" stroke="#000" stroke-width="1.4"/>
<text x="347.15" y="437.80" font-size="10.8" font-family="Liberation Sans, sans-serif" font-weight="bold" text-anchor="start" >untreated</text>
<rect x="325.75" y="445.90" width="18.10" height="7.20" fill="#858585" stroke="#000" stroke-width="1.4"/>
<text x="347.15" y="453.20" font-size="10.8" font-family="Liberation Sans, sans-serif" font-weight="bold" text-anchor="start" >statin</text>
<line x1="405.50" y1="438.00" x2="427.00" y2="438.00" stroke="#000" stroke-width="1.3" />
<text x="416.90" y="435.70" font-size="10.5" font-family="Liberation Sans, sans-serif" text-anchor="middle" >NS</text>
<text x="115.80" y="645.00" font-size="25" font-family="Liberation Sans, sans-serif" font-weight="bold" text-anchor="start" >C</text>
<line x1="164.60" y1="652.40" x2="164.60" y2="802.10" stroke="#000" stroke-width="2.3" />
<line x1="385.50" y1="652.40" x2="385.50" y2="802.10" stroke="#000" stroke-width="2.3" />
<line x1="160.60" y1="801.00" x2="389.50" y2="801.00" stroke="#000" stroke-width="2.3" />
<line x1="160.60" y1="801.00" x2="164.60" y2="801.00" stroke="#000" stroke-width="1.6" />
<text transform="translate(158.80,805.70) scale(0.93,1)" stroke="#000" stroke-width="0.3" font-size="12.2" font-family="Liberation Sans, sans-serif" font-weight="bold" text-anchor="end">0</text>
<line x1="160.60" y1="776.40" x2="164.60" y2="776.40" stroke="#000" stroke-width="1.6" />
<text transform="translate(158.80,781.10) scale(0.93,1)" stroke="#000" stroke-width="0.3" font-size="12.2" font-family="Liberation Sans, sans-serif" font-weight="bold" text-anchor="end">10</text>
<line x1="160.60" y1="751.80" x2="164.60" y2="751.80" stroke="#000" stroke-width="1.6" />
<text transform="translate(158.80,756.50) scale(0.93,1)" stroke="#000" stroke-width="0.3" font-size="12.2" font-family="Liberation Sans, sans-serif" font-weight="bold" text-anchor="end">20</text>
<line x1="160.60" y1="727.20" x2="164.60" y2="727.20" stroke="#000" stroke-width="1.6" />
<text transform="translate(158.80,731.90) scale(0.93,1)" stroke="#000" stroke-width="0.3" font-size="12.2" font-family="Liberation Sans, sans-serif" font-weight="bold" text-anchor="end">30</text>
<line x1="160.60" y1="702.60" x2="164.60" y2="702.60" stroke="#000" stroke-width="1.6" />
<text transform="translate(158.80,707.30) scale(0.93,1)" stroke="#000" stroke-width="0.3" font-size="12.2" font-family="Liberation Sans, sans-serif" font-weight="bold" text-anchor="end">40</text>
<line x1="160.60" y1="678.00" x2="164.60" y2="678.00" stroke="#000" stroke-width="1.6" />
<text transform="translate(158.80,682.70) scale(0.93,1)" stroke="#000" stroke-width="0.3" font-size="12.2" font-family="Liberation Sans, sans-serif" font-weight="bold" text-anchor="end">50</text>
<line x1="160.60" y1="653.40" x2="164.60" y2="653.40" stroke="#000" stroke-width="1.6" />
<text transform="translate(158.80,658.10) scale(0.93,1)" stroke="#000" stroke-width="0.3" font-size="12.2" font-family="Liberation Sans, sans-serif" font-weight="bold" text-anchor="end">60</text>
<line x1="385.50" y1="801.00" x2="389.50" y2="801.00" stroke="#000" stroke-width="1.6" />
<text transform="translate(393.00,805.70) scale(0.93,1)" stroke="#000" stroke-width="0.3" font-size="12.2" font-family="Liberation Sans, sans-serif" font-weight="bold" text-anchor="start">0</text>
<line x1="385.50" y1="779.91" x2="389.50" y2="779.91" stroke="#000" stroke-width="1.6" />
<text transform="translate(393.00,784.61) scale(0.93,1)" stroke="#000" stroke-width="0.3" font-size="12.2" font-family="Liberation Sans, sans-serif" font-weight="bold" text-anchor="start">5</text>
<line x1="385.50" y1="758.83" x2="389.50" y2="758.83" stroke="#000" stroke-width="1.6" />
<text transform="translate(393.00,763.53) scale(0.93,1)" stroke="#000" stroke-width="0.3" font-size="12.2" font-family="Liberation Sans, sans-serif" font-weight="bold" text-anchor="start">10</text>
<line x1="385.50" y1="737.74" x2="389.50" y2="737.74" stroke="#000" stroke-width="1.6" />
<text transform="translate(393.00,742.44) scale(0.93,1)" stroke="#000" stroke-width="0.3" font-size="12.2" font-family="Liberation Sans, sans-serif" font-weight="bold" text-anchor="start">15</text>
<line x1="385.50" y1="716.66" x2="389.50" y2="716.66" stroke="#000" stroke-width="1.6" />
<text transform="translate(393.00,721.36) scale(0.93,1)" stroke="#000" stroke-width="0.3" font-size="12.2" font-family="Liberation Sans, sans-serif" font-weight="bold" text-anchor="start">20</text>
<line x1="385.50" y1="695.57" x2="389.50" y2="695.57" stroke="#000" stroke-width="1.6" />
<text transform="translate(393.00,700.27) scale(0.93,1)" stroke="#000" stroke-width="0.3" font-size="12.2" font-family="Liberation Sans, sans-serif" font-weight="bold" text-anchor="start">25</text>
<line x1="385.50" y1="674.49" x2="389.50" y2="674.49" stroke="#000" stroke-width="1.6" />
<text transform="translate(393.00,679.19) scale(0.93,1)" stroke="#000" stroke-width="0.3" font-size="12.2" font-family="Liberation Sans, sans-serif" font-weight="bold" text-anchor="start">30</text>
<line x1="385.50" y1="653.40" x2="389.50" y2="653.40" stroke="#000" stroke-width="1.6" />
<text transform="translate(393.00,658.10) scale(0.93,1)" stroke="#000" stroke-width="0.3" font-size="12.2" font-family="Liberation Sans, sans-serif" font-weight="bold" text-anchor="start">35</text>
<line x1="164.60" y1="801.00" x2="164.60" y2="805.00" stroke="#000" stroke-width="1.6" />
<text transform="translate(164.60,818.10) scale(0.95,1)" stroke="#000" stroke-width="0.3" font-size="12.2" font-family="Liberation Sans, sans-serif" font-weight="bold" text-anchor="middle">6</text>
<line x1="196.16" y1="801.00" x2="196.16" y2="805.00" stroke="#000" stroke-width="1.6" />
<text transform="translate(196.16,818.10) scale(0.95,1)" stroke="#000" stroke-width="0.3" font-size="12.2" font-family="Liberation Sans, sans-serif" font-weight="bold" text-anchor="middle">8</text>
<line x1="227.71" y1="801.00" x2="227.71" y2="805.00" stroke="#000" stroke-width="1.6" />
<text transform="translate(227.71,818.10) scale(0.95,1)" stroke="#000" stroke-width="0.3" font-size="12.2" font-family="Liberation Sans, sans-serif" font-weight="bold" text-anchor="middle">10</text>
<line x1="259.27" y1="801.00" x2="259.27" y2="805.00" stroke="#000" stroke-width="1.6" />
<text transform="translate(259.27,818.10) scale(0.95,1)" stroke="#000" stroke-width="0.3" font-size="12.2" font-family="Liberation Sans, sans-serif" font-weight="bold" text-anchor="middle">12</text>
<line x1="290.83" y1="801.00" x2="290.83" y2="805.00" stroke="#000" stroke-width="1.6" />
<text transform="translate(290.83,818.10) scale(0.95,1)" stroke="#000" stroke-width="0.3" font-size="12.2" font-family="Liberation Sans, sans-serif" font-weight="bold" text-anchor="middle">14</text>
<line x1="322.39" y1="801.00" x2="322.39" y2="805.00" stroke="#000" stroke-width="1.6" />
<text transform="translate(322.39,818.10) scale(0.95,1)" stroke="#000" stroke-width="0.3" font-size="12.2" font-family="Liberation Sans, sans-serif" font-weight="bold" text-anchor="middle">16</text>
<line x1="353.94" y1="801.00" x2="353.94" y2="805.00" stroke="#000" stroke-width="1.6" />
<text transform="translate(353.94,818.10) scale(0.95,1)" stroke="#000" stroke-width="0.3" font-size="12.2" font-family="Liberation Sans, sans-serif" font-weight="bold" text-anchor="middle">18</text>
<line x1="385.50" y1="801.00" x2="385.50" y2="805.00" stroke="#000" stroke-width="1.6" />
<text transform="translate(385.50,818.10) scale(0.95,1)" stroke="#000" stroke-width="0.3" font-size="12.2" font-family="Liberation Sans, sans-serif" font-weight="bold" text-anchor="middle">20</text>
<text x="276.60" y="835.10" font-size="12.7" font-family="Liberation Sans, sans-serif" font-weight="bold" text-anchor="middle" >Day of&#160; Culture</text>
<text transform="translate(125.20,727.50) rotate(-90)" font-size="12.1" font-family="Liberation Sans, sans-serif" font-weight="bold" text-anchor="middle">KLF2 mRNA</text>
<text transform="translate(138.10,728.00) rotate(-90)" font-size="12.1" font-family="Liberation Sans, sans-serif" font-weight="bold" text-anchor="middle">(Fold over Day 7)</text>
<text transform="translate(412.20,728.00) rotate(90)" font-size="12.2" font-family="Liberation Sans, sans-serif" font-weight="bold" text-anchor="middle">(Fold Enrichment/IgG)</text>
<text transform="translate(426.90,728.50) rotate(90)" font-size="12.2" font-family="Liberation Sans, sans-serif" font-weight="bold" text-anchor="middle">KLF2 ChIP</text>
<polyline points="180.38,798.54 227.71,776.89 259.27,749.34 290.83,755.24 353.94,753.77" fill="none" stroke="#000" stroke-width="1.7" stroke-dasharray="5,3.5"/>
<rect x="177.38" y="795.54" width="6" height="6" fill="#000"/>
<rect x="224.71" y="773.89" width="6" height="6" fill="#000"/>
<line x1="259.27" y1="744.91" x2="259.27" y2="753.77" stroke="#000" stroke-width="1.1" />
<line x1="255.77" y1="744.91" x2="262.77" y2="744.91" stroke="#000" stroke-width="1.1" />
<line x1="255.77" y1="753.77" x2="262.77" y2="753.77" stroke="#000" stroke-width="1.1" />
<rect x="256.27" y="746.34" width="6" height="6" fill="#000"/>
<line x1="290.83" y1="749.34" x2="290.83" y2="761.15" stroke="#000" stroke-width="1.1" />
<line x1="287.33" y1="749.34" x2="294.33" y2="749.34" stroke="#000" stroke-width="1.1" />
<line x1="287.33" y1="761.15" x2="294.33" y2="761.15" stroke="#000" stroke-width="1.1" />
<rect x="287.83" y="752.24" width="6" height="6" fill="#000"/>
<rect x="350.94" y="750.77" width="6" height="6" fill="#000"/>
<polyline points="196.16,762.20 259.27,720.03 306.61,694.31 322.39,739.01" fill="none" stroke="#000" stroke-width="2.1"/>
<polygon points="192.36,759.20 199.96,759.20 196.16,766.00" fill="none" stroke="#000" stroke-width="1.6"/>
<line x1="259.27" y1="705.27" x2="259.27" y2="734.79" stroke="#000" stroke-width="1.1" />
<line x1="255.77" y1="705.27" x2="262.77" y2="705.27" stroke="#000" stroke-width="1.1" />
<line x1="255.77" y1="734.79" x2="262.77" y2="734.79" stroke="#000" stroke-width="1.1" />
<polygon points="255.47,717.03 263.07,717.03 259.27,723.83" fill="none" stroke="#000" stroke-width="1.6"/>
<line x1="306.61" y1="683.34" x2="306.61" y2="705.27" stroke="#000" stroke-width="1.1" />
<line x1="303.11" y1="683.34" x2="310.11" y2="683.34" stroke="#000" stroke-width="1.1" />
<line x1="303.11" y1="705.27" x2="310.11" y2="705.27" stroke="#000" stroke-width="1.1" />
<polygon points="302.81,691.31 310.41,691.31 306.61,698.11" fill="none" stroke="#000" stroke-width="1.6"/>
<line x1="322.39" y1="732.47" x2="322.39" y2="745.54" stroke="#000" stroke-width="1.1" />
<line x1="318.89" y1="732.47" x2="325.89" y2="732.47" stroke="#000" stroke-width="1.1" />
<line x1="318.89" y1="745.54" x2="325.89" y2="745.54" stroke="#000" stroke-width="1.1" />
<polygon points="318.59,736.01 326.19,736.01 322.39,742.81" fill="none" stroke="#000" stroke-width="1.6"/>
<polyline points="196.16,746.18 259.27,719.61 306.61,676.17 322.39,677.44" fill="none" stroke="#000" stroke-width="2.1"/>
<line x1="196.16" y1="741.54" x2="196.16" y2="750.82" stroke="#000" stroke-width="1.1" />
<line x1="192.66" y1="741.54" x2="199.66" y2="741.54" stroke="#000" stroke-width="1.1" />
<line x1="192.66" y1="750.82" x2="199.66" y2="750.82" stroke="#000" stroke-width="1.1" />
<circle cx="196.16" cy="746.18" r="3.0" fill="none" stroke="#000" stroke-width="1.5"/>
<line x1="259.27" y1="710.33" x2="259.27" y2="728.89" stroke="#000" stroke-width="1.1" />
<line x1="255.77" y1="710.33" x2="262.77" y2="710.33" stroke="#000" stroke-width="1.1" />
<line x1="255.77" y1="728.89" x2="262.77" y2="728.89" stroke="#000" stroke-width="1.1" />
<circle cx="259.27" cy="719.61" r="3.0" fill="none" stroke="#000" stroke-width="1.5"/>
<circle cx="306.61" cy="676.17" r="3.0" fill="none" stroke="#000" stroke-width="1.5"/>
<line x1="322.39" y1="669.43" x2="322.39" y2="685.45" stroke="#000" stroke-width="1.1" />
<line x1="318.89" y1="669.43" x2="325.89" y2="669.43" stroke="#000" stroke-width="1.1" />
<line x1="318.89" y1="685.45" x2="325.89" y2="685.45" stroke="#000" stroke-width="1.1" />
<circle cx="322.39" cy="677.44" r="3.0" fill="none" stroke="#000" stroke-width="1.5"/>
<line x1="170.60" y1="652.30" x2="174.40" y2="652.30" stroke="#000" stroke-width="1.9" />
<line x1="187.20" y1="652.30" x2="191.20" y2="652.30" stroke="#000" stroke-width="1.9" />
<rect x="177.90" y="649.20" width="6.2" height="6.2" fill="#000"/>
<text x="195.00" y="656.70" font-size="12.8" font-family="Liberation Sans, sans-serif" font-weight="bold" text-anchor="start" >mRNA untreated</text>
<line x1="170.60" y1="670.20" x2="191.20" y2="670.20" stroke="#000" stroke-width="2.0" />
<polygon points="177.10,667.20 184.90,667.20 181.00,674.10" fill="none" stroke="#000" stroke-width="1.5"/>
<text x="195.00" y="674.60" font-size="12.8" font-family="Liberation Sans, sans-serif" font-weight="bold" text-anchor="start" >ChIP HS3</text>
<line x1="170.60" y1="688.30" x2="191.20" y2="688.30" stroke="#000" stroke-width="2.0" />
<circle cx="181.00" cy="688.30" r="3.0" fill="none" stroke="#000" stroke-width="1.5"/>
<text x="195.00" y="692.70" font-size="12.8" font-family="Liberation Sans, sans-serif" font-weight="bold" text-anchor="start" >ChIP HS2</text>
</svg></body></html>
